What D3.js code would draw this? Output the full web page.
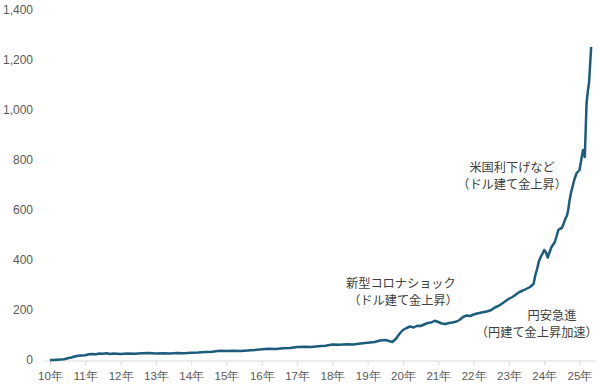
<!DOCTYPE html>
<html><head><meta charset="utf-8">
<script src="https://cdn.jsdelivr.net/npm/d3@7"></script>
<style>
body{margin:0;background:#fff;}
svg{display:block;font-family:"Noto Sans","Noto Sans CJK JP",sans-serif;}
</style></head><body>
<svg id="c" width="600" height="391"></svg>
<script>
const times = [2010.00,2010.10,2010.20,2010.30,2010.40,2010.50,2010.60,2010.70,2010.80,2010.90,
2011.00,2011.10,2011.20,2011.30,2011.40,2011.50,2011.60,2011.70,2011.80,2011.90,
2012.00,2012.20,2012.40,2012.60,2012.80,2013.00,2013.20,2013.40,2013.60,2013.80,
2014.00,2014.20,2014.40,2014.60,2014.80,2015.00,2015.20,2015.40,2015.60,2015.80,
2016.00,2016.20,2016.40,2016.60,2016.80,2017.00,2017.20,2017.40,2017.60,2017.80,
2018.00,2018.20,2018.40,2018.60,2018.80,2019.00,2019.20,2019.35,2019.50,2019.60,
2019.70,2019.80,2019.90,2020.00,2020.10,2020.20,2020.30,2020.40,2020.50,2020.60,
2020.70,2020.80,2020.90,2021.00,2021.10,2021.20,2021.30,2021.40,2021.50,2021.60,
2021.70,2021.80,2021.90,2022.00,2022.10,2022.20,2022.30,2022.40,2022.50,2022.60,
2022.70,2022.80,2022.90,2023.00,2023.10,2023.20,2023.30,2023.40,2023.50,2023.60,
2023.70,2023.75,2023.80,2023.85,2023.90,2023.95,2024.00,2024.05,2024.10,2024.15,
2024.20,2024.30,2024.35,2024.40,2024.45,2024.50,2024.55,2024.60,2024.65,2024.68,
2024.72,2024.76,2024.80,2024.85,2024.92,2025.00,2025.05,2025.10,2025.15,2025.20,
2025.24,2025.27,2025.30,2025.33];
const values = [0,0,1,2,3,7,10,14,17,18,
19,23,24,23,26,25,27,24,26,25,
24,26,25,27,28,26,27,26,28,27,
29,30,32,33,37,36,37,36,38,40,
43,45,44,47,48,52,53,52,55,57,
62,61,63,62,66,69,72,78,80,76,
72,85,105,120,128,134,130,137,136,142,
148,150,157,152,146,144,148,150,153,160,
172,178,176,182,186,189,192,195,200,210,
216,225,235,245,252,262,272,278,285,292,
305,340,365,395,412,425,440,430,410,430,
450,472,495,520,525,528,545,565,580,600,
640,670,692,720,748,760,800,840,812,1028,
1080,1108,1180,1252];
const yearTicks = [2010,2011,2012,2013,2014,2015,2016,2017,2018,2019,2020,2021,2022,2023,2024,2025];
const yTicks = [0,200,400,600,800,1000,1200,1400];
// annotation lines: text, anchor time, anchor value (baseline)
const noteTexts = ["新型コロナショック","（ドル建て金上昇）","円安急進","（円建て金上昇加速）","米国利下げなど","（ドル建て金上昇）"];
const noteT = [2019.94,2020.0,2024.22,2023.79,2023.09,2023.09];
const noteV = [290,222,160,92,752,684];

const svg = d3.select("#c");
const x = d3.scaleLinear().domain([2010,2025]).range([50,579.5]);
const y = d3.scaleLinear().domain([0,1400]).range([360,10]);

svg.append("line").attr("x1",x(2009.85)).attr("x2",x(2025.45))
  .attr("y1",361).attr("y2",361).attr("stroke","#d9d9d9").attr("stroke-width",1);

const xa = svg.append("g").attr("transform","translate(0,361)")
  .call(d3.axisBottom(x).tickValues(yearTicks).tickSize(4).tickPadding(7)
    .tickFormat(d => String(d).slice(2)+"年"));
xa.select(".domain").remove();
xa.selectAll("line").attr("stroke","#d9d9d9");
xa.selectAll("text").attr("fill","#595959").style("font-size","11.5px");

const ya = svg.append("g").attr("transform","translate(37,0)")
  .call(d3.axisLeft(y).tickValues(yTicks).tickSize(0).tickPadding(4).tickFormat(d3.format(",")));
ya.select(".domain").remove();
ya.selectAll("text").attr("fill","#595959").style("font-size","12px");

const data = times.map((t,i)=>({t, v:values[i]}));
svg.append("path").datum(data)
  .attr("fill","none").attr("stroke","#1c5d7e").attr("stroke-width",2.5)
  .attr("stroke-linejoin","round")
  .attr("d", d3.line().x(d=>x(d.t)).y(d=>y(d.v)));

svg.append("g").selectAll("text").data(noteTexts).join("text")
  .attr("text-anchor","middle").attr("fill","#404040")
  .style("font-family","'Noto Sans CJK JP',sans-serif").style("font-size","12.2px")
  .attr("x",(d,i)=>x(noteT[i])).attr("y",(d,i)=>y(noteV[i]))
  .text(d=>d);
</script></body></html>
